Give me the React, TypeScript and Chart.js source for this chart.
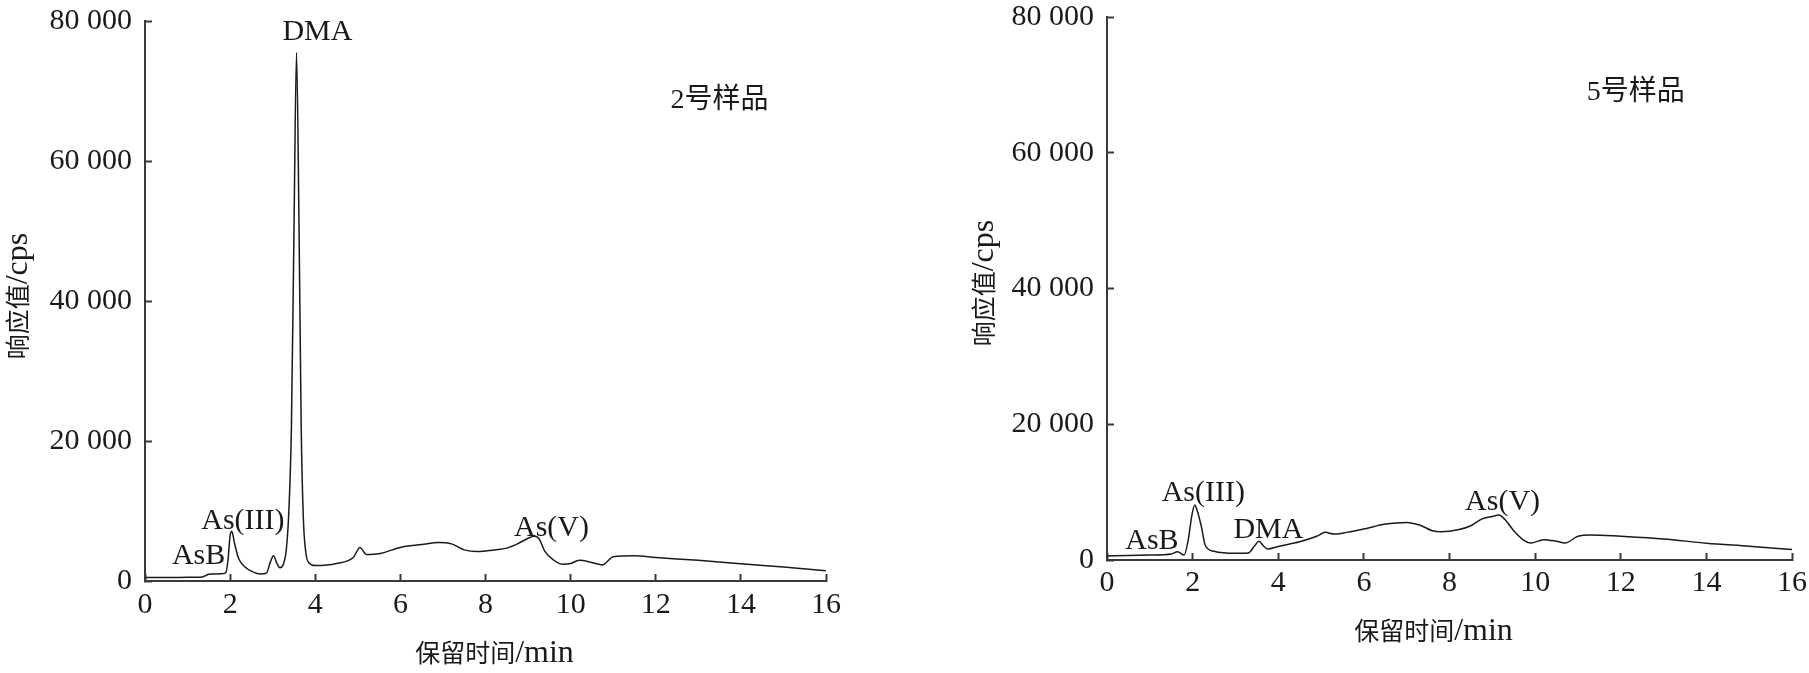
import React, { useEffect, useRef } from "react";
import { Chart, registerables } from "chart.js";

Chart.register(...registerables);

// ---------- data ----------
const xTickValues = [0, 2, 4, 6, 8, 10, 12, 14, 16];
const yTickValues = [0, 20000, 40000, 60000, 80000];

const xTitle = "保留时间/min";
const yTitle = "响应值/cps";

// Sample 2 chromatogram (retention time, min / response, cps)
const timeS2 = [
  0, 0.5, 1.0, 1.3, 1.4, 1.5, 1.6, 1.8, 1.9, 1.95, 2.0, 2.04, 2.1, 2.2, 2.35,
  2.5, 2.7, 2.85, 2.95, 3.02, 3.1, 3.17, 3.25, 3.32, 3.38, 3.44, 3.5, 3.56,
  3.62, 3.67, 3.72, 3.78, 3.85, 4.0, 4.5, 4.9, 5.05, 5.2, 5.5, 6.0, 6.5, 6.9,
  7.2, 7.5, 7.8, 8.0, 8.3, 8.5, 8.75, 9.0, 9.15, 9.25, 9.4, 9.6, 9.8, 10.0,
  10.2, 10.5, 10.75, 11.0, 11.5, 12, 13, 14, 15, 16,
];
const respS2 = [
  500, 500, 520, 550, 700, 950, 1000, 1050, 1200, 3000, 6500, 7100, 5500, 3200,
  2000, 1400, 1000, 1100, 2800, 3600, 2500, 1900, 2400, 4500, 10000, 22000,
  50000, 75500, 50000, 22000, 9000, 4000, 2600, 2200, 2500, 3400, 4800, 3800,
  3900, 4800, 5200, 5500, 5300, 4450, 4200, 4300, 4500, 4700, 5300, 6100, 6400,
  6100, 4200, 3000, 2400, 2500, 2950, 2650, 2300, 3450, 3600, 3350, 2950, 2450,
  2000, 1450,
];

// Sample 5 chromatogram
const timeS5 = [
  0, 0.5, 1.0, 1.5, 1.65, 1.8, 1.9, 1.98, 2.05, 2.12, 2.2, 2.3, 2.5, 3.0, 3.3,
  3.45, 3.55, 3.65, 3.75, 4.0, 4.5, 4.9, 5.1, 5.3, 5.6, 6.0, 6.5, 7.0, 7.3, 7.6,
  7.8, 8.2, 8.5, 8.75, 9.0, 9.15, 9.3, 9.5, 9.75, 9.9, 10.2, 10.5, 10.7, 11.0,
  11.3, 12, 13, 14, 15, 16,
];
const respS5 = [
  600, 650, 720, 880, 1230, 720, 3060, 6500, 8100, 7000, 5050, 2100, 1280, 980,
  1030, 2100, 2750, 2100, 1620, 2000, 2700, 3500, 4070, 3820, 4070, 4560, 5300,
  5540, 5150, 4320, 4170, 4460, 5050, 6030, 6420, 6620, 5930, 4320, 2850, 2500,
  3000, 2750, 2500, 3500, 3700, 3500, 3110, 2470, 2030, 1540,
];

// Peak / sample labels (text, position in data units)
const labelTextS2 = ["AsB", "As(III)", "DMA", "As(V)", "2号样品"];
const labelXS2 = [1.26, 2.3, 4.05, 9.55, 13.5];
const labelYS2 = [3600, 8500, 78350, 7500, 68600];
const labelSizeS2 = [30, 30, 30, 30, 28];

const labelTextS5 = ["AsB", "As(III)", "DMA", "As(V)", "5号样品"];
const labelXS5 = [1.05, 2.25, 3.77, 9.24, 12.35];
const labelYS5 = [2800, 9800, 4400, 8600, 68900];
const labelSizeS5 = [30, 30, 30, 30, 28];

// ---------- styling ----------
const LATIN = '"Liberation Serif", "Times New Roman", serif';
const CJK = '"Noto Sans CJK SC", "Noto Sans CJK JP", sans-serif';
const FONT = `"Liberation Serif", "Times New Roman", "Noto Sans CJK SC", serif`;
const TEXT = "#1a1a1a";
const AXIS = "#3a3a3a";
const TITLE_CJK_SIZE = 25;
const TITLE_LATIN_SIZE = 32;

const isCJK = (ch: string) => /[\u2e80-\u9fff\uf900-\ufaff\uff00-\uffef]/.test(ch);

function splitRuns(text: string) {
  const runs: { t: string; cjk: boolean }[] = [];
  for (const ch of Array.from(text)) {
    const c = isCJK(ch);
    const last = runs[runs.length - 1];
    if (last && last.cjk === c) last.t += ch;
    else runs.push({ t: ch, cjk: c });
  }
  return runs;
}

function drawMixed(
  ctx: CanvasRenderingContext2D,
  text: string,
  cx: number,
  cy: number,
  rot: number
) {
  const runs = splitRuns(text);
  const fontFor = (c: boolean) =>
    c ? `${TITLE_CJK_SIZE}px ${CJK}` : `${TITLE_LATIN_SIZE}px ${LATIN}`;
  let total = 0;
  const widths = runs.map((r) => {
    ctx.font = fontFor(r.cjk);
    const w = ctx.measureText(r.t).width;
    total += w;
    return w;
  });
  ctx.save();
  ctx.translate(cx, cy);
  ctx.rotate(rot);
  ctx.fillStyle = TEXT;
  ctx.textAlign = "left";
  ctx.textBaseline = "alphabetic";
  let x = -total / 2;
  const base = TITLE_CJK_SIZE * 0.38;
  runs.forEach((r, i) => {
    ctx.font = fontFor(r.cjk);
    ctx.fillText(r.t, x, base);
    x += widths[i];
  });
  ctx.restore();
}

type PanelCfg = {
  time: number[];
  resp: number[];
  labelText: string[];
  labelX: number[];
  labelY: number[];
  labelSize: number[];
  width: number;
  height: number;
  padLeft: number;
  padTop: number;
  padRight: number;
  yAxisWidth: number;
  xAxisHeight: number;
  xTickPad: number;
  xTitleDx: number;
  xTitleY: number;
  yTitleX: number;
  yTitleY: number;
};

function makeChart(canvas: HTMLCanvasElement, cfg: PanelCfg) {
  const labelPlugin = {
    id: "peakLabels",
    afterDatasetsDraw(chart: any) {
      const { ctx, scales, chartArea } = chart;
      const xs = scales.x;
      const ys = scales.y;
      ctx.save();
      ctx.fillStyle = TEXT;
      ctx.textAlign = "center";
      ctx.textBaseline = "middle";
      cfg.labelText.forEach((t, i) => {
        ctx.font = `${cfg.labelSize[i]}px ${FONT}`;
        ctx.fillText(
          t,
          xs.getPixelForValue(cfg.labelX[i]),
          ys.getPixelForValue(cfg.labelY[i])
        );
      });
      ctx.restore();
      // axis titles
      drawMixed(
        ctx,
        xTitle,
        (chartArea.left + chartArea.right) / 2 + cfg.xTitleDx,
        cfg.xTitleY,
        0
      );
      drawMixed(ctx, yTitle, cfg.yTitleX, cfg.yTitleY, -Math.PI / 2);
    },
  };

  return new Chart(canvas, {
    type: "line",
    data: {
      datasets: [
        {
          data: cfg.time.map((t, i) => ({ x: t, y: cfg.resp[i] })),
          borderColor: "#1a1a1a",
          borderWidth: 1.5,
          pointRadius: 0,
          fill: false,
          cubicInterpolationMode: "monotone",
        },
      ],
    },
    options: {
      responsive: false,
      animation: false,
      devicePixelRatio: 1,
      layout: {
        padding: {
          left: cfg.padLeft,
          top: cfg.padTop,
          right: cfg.padRight,
          bottom: 0,
        },
      },
      plugins: {
        legend: { display: false },
        tooltip: { enabled: false },
      },
      scales: {
        x: {
          type: "linear",
          min: 0,
          max: 16,
          afterBuildTicks: (s: any) => {
            s.ticks = xTickValues.map((v) => ({ value: v }));
          },
          afterFit: (s: any) => {
            s.height = cfg.xAxisHeight;
            s.paddingLeft = 0;
            s.paddingRight = 0;
            s.paddingTop = 0;
            s.paddingBottom = 0;
          },
          ticks: {
            color: TEXT,
            font: { family: FONT, size: 30, lineHeight: 1 },
            padding: cfg.xTickPad,
            maxRotation: 0,
            autoSkip: false,
          },
          grid: {
            drawOnChartArea: false,
            tickLength: -7,
            tickColor: AXIS,
            tickWidth: 2,
          },
          border: { color: AXIS, width: 2 },
          title: { display: false },
        },
        y: {
          type: "linear",
          min: 0,
          max: 80000,
          afterBuildTicks: (s: any) => {
            s.ticks = yTickValues.map((v) => ({ value: v }));
          },
          afterFit: (s: any) => {
            s.width = cfg.yAxisWidth;
            s.paddingLeft = 0;
            s.paddingRight = 0;
            s.paddingTop = 0;
            s.paddingBottom = 0;
          },
          ticks: {
            color: TEXT,
            font: { family: FONT, size: 30, lineHeight: 1 },
            padding: 20,
            callback: (v: any) =>
              Number(v) === 0 ? "0" : `${Math.round(Number(v) / 1000)} 000`,
          },
          grid: {
            drawOnChartArea: false,
            tickLength: -7,
            tickColor: AXIS,
            tickWidth: 2,
          },
          border: { color: AXIS, width: 2 },
          title: { display: false },
        },
      },
    },
    plugins: [labelPlugin],
  } as any);
}

const leftCfg: PanelCfg = {
  time: timeS2,
  resp: respS2,
  labelText: labelTextS2,
  labelX: labelXS2,
  labelY: labelYS2,
  labelSize: labelSizeS2,
  width: 900,
  height: 673,
  padLeft: 0,
  padTop: 21,
  padRight: 74,
  yAxisWidth: 145,
  xAxisHeight: 92,
  xTickPad: 16,
  xTitleDx: 9,
  xTitleY: 652,
  yTitleX: 17,
  yTitleY: 296,
};

const rightCfg: PanelCfg = {
  time: timeS5,
  resp: respS5,
  labelText: labelTextS5,
  labelX: labelXS5,
  labelY: labelYS5,
  labelSize: labelSizeS5,
  width: 909,
  height: 673,
  padLeft: 66,
  padTop: 17,
  padRight: 17,
  yAxisWidth: 141,
  xAxisHeight: 113,
  xTickPad: 15,
  xTitleDx: -16,
  xTitleY: 630,
  yTitleX: 83,
  yTitleY: 283,
};

function Panel({ cfg, left }: { cfg: PanelCfg; left: number }) {
  const ref = useRef<HTMLCanvasElement | null>(null);
  useEffect(() => {
    if (!ref.current) return;
    const chart = makeChart(ref.current, cfg);
    return () => chart.destroy();
  }, [cfg]);
  return (
    <canvas
      ref={ref}
      width={cfg.width}
      height={cfg.height}
      style={{
        position: "absolute",
        left,
        top: 0,
        width: cfg.width,
        height: cfg.height,
      }}
    />
  );
}

export default function App() {
  return (
    <div
      style={{
        position: "absolute",
        left: 0,
        top: 0,
        width: 1809,
        height: 673,
        background: "#ffffff",
        overflow: "hidden",
      }}
    >
      <Panel cfg={leftCfg} left={0} />
      <Panel cfg={rightCfg} left={900} />
    </div>
  );
}
